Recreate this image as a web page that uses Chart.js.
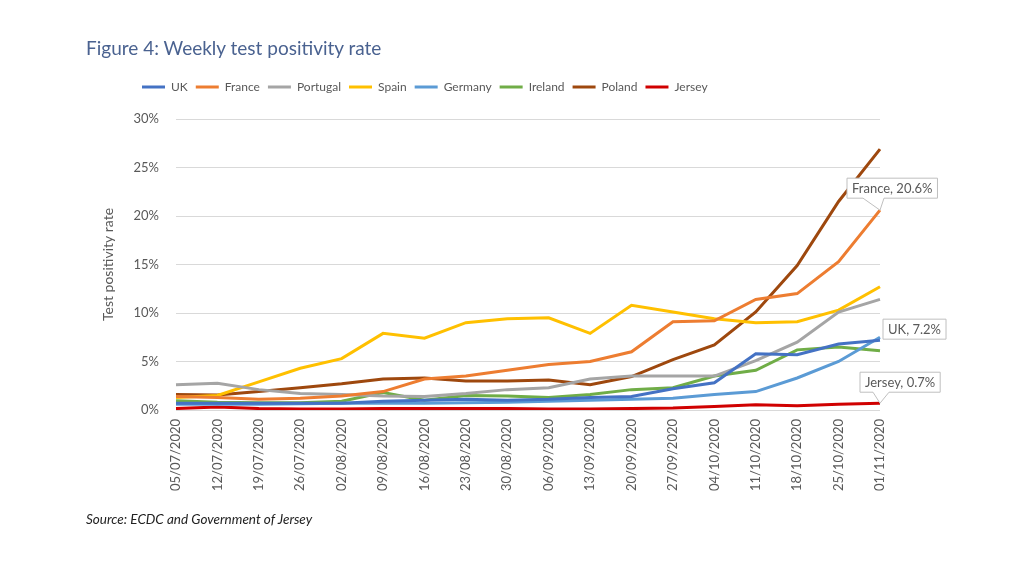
<!DOCTYPE html>
<html>
<head>
<meta charset="utf-8">
<script src="https://cdn.jsdelivr.net/npm/chart.js@4"></script>
<style>
  html, body { margin: 0; padding: 0; background: #ffffff; }
  #wrap { position: relative; width: 1024px; height: 576px; overflow: hidden; }
  #c { position: absolute; left: 0; top: 0; }
  #title { position: absolute; left: 86px; top: 36px; font-family: Lato, "Open Sans", sans-serif; font-size: 19px; color: #4a6290; white-space: nowrap; }
  #source { position: absolute; left: 86px; top: 511px; font-family: Lato, "Open Sans", sans-serif; font-style: italic; font-size: 13.5px; color: #222; white-space: nowrap; }
</style>
</head>
<body>
<div id="wrap">
  <canvas id="c" width="1024" height="576"></canvas>
  <div id="title">Figure 4: Weekly test positivity rate</div>
  <div id="source">Source: ECDC and Government of Jersey</div>
</div>
<script>
const categories = ["05/07/2020","12/07/2020","19/07/2020","26/07/2020","02/08/2020","09/08/2020","16/08/2020","23/08/2020","30/08/2020","06/09/2020","13/09/2020","20/09/2020","27/09/2020","04/10/2020","11/10/2020","18/10/2020","25/10/2020","01/11/2020"];
const seriesNames = ["UK","France","Portugal","Spain","Germany","Ireland","Poland","Jersey"];
const uk       = [0.7,0.7,0.7,0.7,0.7,0.9,1.0,1.1,1.0,1.1,1.3,1.4,2.2,2.8,5.8,5.7,6.8,7.2];
const france   = [1.4,1.3,1.1,1.2,1.45,1.9,3.2,3.5,4.1,4.7,5.0,6.0,9.1,9.2,11.4,12.0,15.3,20.6];
const portugal = [2.6,2.75,2.1,1.7,1.6,1.45,1.4,1.7,2.1,2.3,3.2,3.5,3.5,3.5,5.1,7.0,10.1,11.4];
const spain    = [1.3,1.5,2.9,4.3,5.3,7.9,7.4,9.0,9.4,9.5,7.9,10.8,10.1,9.4,9.0,9.1,10.3,12.7];
const germany  = [0.6,0.6,0.6,0.65,0.7,0.7,0.7,0.75,0.8,0.9,1.0,1.1,1.2,1.6,1.9,3.3,5.0,7.5];
const ireland  = [0.95,0.8,0.75,0.75,0.9,1.8,1.0,1.5,1.45,1.3,1.6,2.1,2.3,3.5,4.1,6.2,6.5,6.1];
const poland   = [1.6,1.55,1.9,2.3,2.7,3.2,3.3,3.0,3.0,3.1,2.6,3.45,5.2,6.7,10.1,14.9,21.5,26.9];
const jersey   = [0.15,0.3,0.15,0.1,0.1,0.15,0.15,0.15,0.15,0.1,0.1,0.15,0.2,0.35,0.55,0.45,0.6,0.7];
const yTicks = [0,5,10,15,20,25,30];
const labelledSeries = ["France","UK","Jersey"];
const yAxisTitle = "Test positivity rate";

const colors = ["#4472C4","#ED7D31","#A5A5A5","#FFC000","#5B9BD5","#70AD47","#9E480E","#D00000"];
const values = [uk, france, portugal, spain, germany, ireland, poland, jersey];
const FONT = "Lato, 'Open Sans', sans-serif";

const datasets = seriesNames.map((n, i) => ({
  label: n,
  data: values[i],
  borderColor: colors[i],
  backgroundColor: colors[i],
  borderWidth: 3,
  pointRadius: 0,
  tension: 0,
  fill: false
}));

const legendSizer = {
  id: 'legendSizer',
  afterInit(chart) {
    const lg = chart.legend;
    const origFit = lg.fit;
    lg.fit = function () { origFit.call(this); this.height = 46; };
    const origDraw = lg.draw;
    lg.draw = function () {
      const ctx = this.ctx;
      ctx.save();
      ctx.translate(38, 0);
      origDraw.call(this);
      ctx.restore();
    };
  }
};

const callouts = {
  id: 'callouts',
  afterDatasetsDraw(chart) {
    const ctx = chart.ctx;
    const xs = chart.scales.x, ys = chart.scales.y;
    const last = categories.length - 1;
    ctx.save();
    ctx.font = "13px " + FONT;
    ctx.textBaseline = 'middle';
    labelledSeries.forEach(name => {
      const si = seriesNames.indexOf(name);
      const v = values[si][last];
      const px = xs.getPixelForValue(last);
      const py = ys.getPixelForValue(v);
      const text = name + ", " + v.toFixed(1) + "%";
      const tw = ctx.measureText(text).width;
      const w = tw + 10, h = 20;
      let bx, by, pointer = null;
      if (name === "UK") {
        bx = px + 3; by = py - h - 1;
      } else if (name === "France") {
        bx = px - 33; by = py - 32;
        pointer = [[px - 17, by + h], [px, py], [px + 4, by + h]];
      } else {
        bx = px - 20; by = py - 31;
        pointer = [[px - 7, by + h], [px, py], [px + 9, by + h]];
      }
      ctx.fillStyle = '#ffffff';
      ctx.strokeStyle = '#bfbfbf';
      ctx.lineWidth = 1;
      ctx.beginPath();
      if (pointer) {
        ctx.moveTo(bx, by);
        ctx.lineTo(bx + w, by);
        ctx.lineTo(bx + w, by + h);
        ctx.lineTo(pointer[2][0], pointer[2][1]);
        ctx.lineTo(pointer[1][0], pointer[1][1]);
        ctx.lineTo(pointer[0][0], pointer[0][1]);
        ctx.lineTo(bx, by + h);
        ctx.closePath();
      } else {
        ctx.rect(bx, by, w, h);
      }
      ctx.fill();
      ctx.stroke();
      ctx.fillStyle = '#595959';
      ctx.textAlign = 'left';
      ctx.fillText(text, bx + 5, by + h / 2 + 0.5);
    });
    ctx.restore();
  }
};

new Chart(document.getElementById('c'), {
  type: 'line',
  data: { labels: categories, datasets: datasets },
  options: {
    responsive: false,
    animation: false,
    layout: { padding: { left: 96, right: 144, top: 73, bottom: 0 } },
    plugins: {
      title: { display: false },
      tooltip: { enabled: false },
      legend: {
        display: true,
        position: 'top',
        align: 'start',
        labels: {
          boxWidth: 23,
          boxHeight: 3,
          padding: 8,
          color: '#595959',
          font: { family: FONT, size: 12 },
          generateLabels(chart) {
            const items = Chart.defaults.plugins.legend.labels.generateLabels(chart);
            items.forEach(it => { it.lineWidth = 0; });
            return items;
          }
        }
      }
    },
    scales: {
      x: {
        offset: false,
        grid: { display: false, drawTicks: false },
        border: { display: false },
        ticks: {
          autoSkip: false,
          maxRotation: 90,
          minRotation: 90,
          padding: 9,
          color: '#595959',
          font: { family: FONT, size: 13 }
        },
        afterFit(scale) { scale.height = 166; }
      },
      y: {
        min: 0,
        max: 30,
        afterBuildTicks(scale) { scale.ticks = yTicks.map(v => ({ value: v })); },
        grid: { color: '#d9d9d9', lineWidth: 1, drawTicks: false },
        border: { display: false },
        ticks: {
          padding: 17,
          color: '#595959',
          font: { family: FONT, size: 13 },
          callback: (v) => v + '%'
        },
        title: {
          display: true,
          text: yAxisTitle,
          color: '#595959',
          font: { family: FONT, size: 14 },
          padding: { top: 4, bottom: 4 }
        },
        afterFit(scale) { scale.width = 80; }
      }
    }
  },
  plugins: [legendSizer, callouts]
});
</script>
</body>
</html>
